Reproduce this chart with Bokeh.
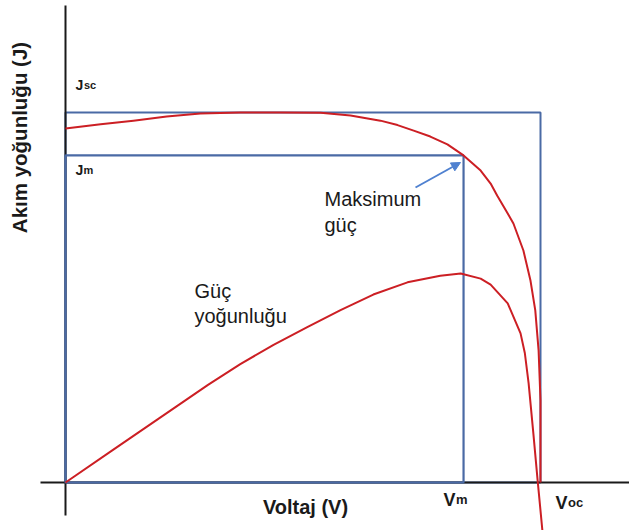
from bokeh.plotting import figure
from bokeh.models import Range1d, Arrow, NormalHead
from bokeh.core.properties import value
from bokeh.embed import file_html
from bokeh.resources import INLINE
import math

# ---- data (normalized: V / Voc, J / Jsc) ----
Voc = 1.0
Jsc = 1.0
Vm = 0.838
Jm = 0.884

jv_voltage = [0.000, 0.074, 0.143, 0.213, 0.284, 0.368, 0.453, 0.537, 0.600, 0.663,
              0.699, 0.733, 0.768, 0.804, 0.838, 0.874, 0.895, 0.909, 0.931, 0.943,
              0.964, 0.979, 0.989, 0.996, 1.000, 1.000]
jv_current = [0.957, 0.968, 0.978, 0.989, 0.997, 1.000, 1.000, 0.999, 0.992, 0.978,
              0.966, 0.951, 0.935, 0.914, 0.884, 0.843, 0.808, 0.775, 0.727, 0.700,
              0.627, 0.545, 0.465, 0.357, 0.222, 0.000]

p_voltage = [0.000, 0.100, 0.200, 0.300, 0.368, 0.438, 0.509, 0.579, 0.648, 0.720,
             0.789, 0.832, 0.874, 0.895, 0.931, 0.958, 0.967, 0.975, 0.985, 0.994,
             1.004]
p_density = [0.000, 0.088, 0.176, 0.264, 0.320, 0.372, 0.420, 0.466, 0.508, 0.541,
             0.559, 0.565, 0.551, 0.535, 0.484, 0.403, 0.350, 0.268, 0.132, 0.005,
             -0.130]

y_title = "Akım yoğunluğu (J)"
x_title = "Voltaj (V)"

# ---- layout helpers (pixel -> data on this frame) ----
X0, SX = 65.0, 475.0
Y0, SY = 482.0, 370.0
def dx(px):
    return (px - X0) / SX
def dy(py):
    return (Y0 - py) / SY

W, H = 629, 530
p = figure(width=W, height=H, output_backend="svg", toolbar_location=None,
           x_range=Range1d(dx(0), dx(W)), y_range=Range1d(dy(H), dy(0)),
           x_axis_type=None, y_axis_type=None, min_border=0,
           outline_line_color=None, background_fill_color="white",
           border_fill_color="white")

RECT = "#4a6aa5"
RED = "#cc1f24"
ARROW = "#4f81d0"
INK = "#1a1a1a"

# outer rectangle (Voc x Jsc)
p.quad(left=[0], right=[Voc], bottom=[0], top=[Jsc], fill_alpha=0,
       line_color=RECT, line_width=2)

# axes lines
p.line(x=[dx(40), dx(640)], y=[0, 0], line_color=INK, line_width=2)
p.line(x=[0, 0], y=[dy(5), dy(515)], line_color=INK, line_width=2)

# inner rectangle (Vm x Jm)
p.quad(left=[0], right=[Vm], bottom=[0], top=[Jm], fill_alpha=0,
       line_color=RECT, line_width=2.2)

# curves
p.line(x=jv_voltage, y=jv_current, line_color=RED, line_width=2, line_join="round")
p.line(x=p_voltage, y=p_density, line_color=RED, line_width=2, line_join="round")

# arrow to maximum power point
p.add_layout(Arrow(end=NormalHead(size=9, fill_color=ARROW, line_color=ARROW),
                   x_start=dx(415), y_start=dy(187), x_end=dx(460), y_end=dy(162),
                   line_color=ARROW, line_width=2))

FONT = value("Liberation Sans")

def txt(x, y, s, size, bold=False, align="left", baseline="alphabetic", angle=0.0):
    p.text(x=[x], y=[y], text=[s], text_font=FONT, text_font_size=value(size),
           text_font_style="bold" if bold else "normal", text_color=INK,
           text_align=align, text_baseline=baseline, angle=angle)

# axis titles
txt(dx(19), dy(137), y_title, "20.5px", bold=True, align="center", angle=math.pi / 2)
txt(dx(305), dy(506), x_title, "20px", bold=True, align="center")

# J labels
txt(dx(75), dy(84), "J", "14px", bold=True)
txt(dx(83.5), dy(84), "sc", "11px", bold=True)
txt(dx(75), dy(169), "J", "14px", bold=True)
txt(dx(83), dy(169), "m", "11px", bold=True)

# V labels
txt(dx(443), dy(499), "V", "18px", bold=True)
txt(dx(455.5), dy(499), "m", "13px", bold=True)
txt(dx(555), dy(502), "V", "18px", bold=True)
txt(dx(567.5), dy(502), "oc", "13px", bold=True)

# annotations
txt(dx(324), dy(198), "Maksimum", "20px")
txt(dx(324), dy(224), "güç", "20px")
txt(dx(194), dy(290), "Güç", "20px")
txt(dx(194), dy(315), "yoğunluğu", "20px")

open("out.html", "w").write(file_html(p, INLINE))
